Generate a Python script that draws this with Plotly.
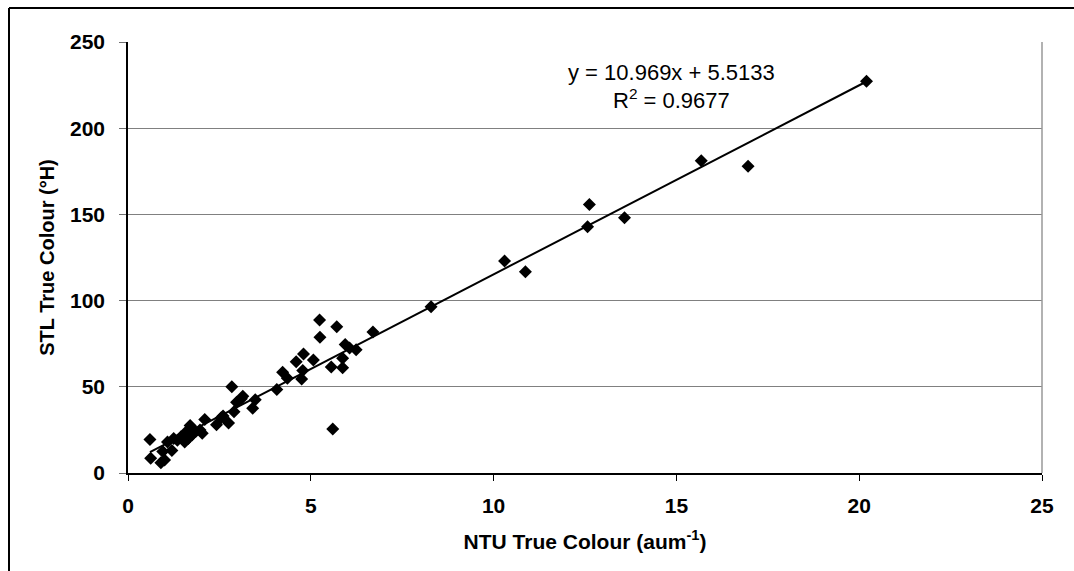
import plotly.graph_objects as go

ntu_colour = [0.60, 0.62, 0.90, 1.00, 0.95, 1.08, 1.20, 1.25, 1.35, 1.45, 1.55, 1.60, 1.65, 1.70,
              1.75, 1.85, 1.97, 2.03, 2.10, 2.42, 2.55, 2.60, 2.75, 2.84, 2.90, 2.97, 3.10, 3.14,
              3.41, 3.48, 4.07, 4.23, 4.36, 4.60, 4.75, 4.78, 4.80, 5.07, 5.24, 5.25, 5.56, 5.60,
              5.71, 5.87, 5.87, 5.94, 6.06, 6.24, 6.70, 8.29, 10.30, 10.87, 12.57, 12.62, 13.58,
              15.68, 16.96, 20.20]
stl_colour = [19.5, 8.5, 6.0, 7.5, 12.5, 18.0, 13.0, 20.0, 19.0, 21.0, 18.0, 24.0, 20.0, 27.5,
              22.0, 24.0, 25.0, 23.0, 31.0, 28.0, 32.0, 33.0, 29.0, 50.0, 35.5, 41.0, 43.0, 44.5,
              37.5, 42.5, 48.5, 58.5, 55.0, 64.5, 54.5, 59.5, 69.0, 65.5, 88.7, 78.7, 61.5, 25.5,
              84.8, 66.5, 61.0, 74.5, 72.5, 71.5, 81.8, 96.5, 123.0, 116.8, 142.9, 155.8, 148.1,
              181.1, 178.0, 227.2]

slope = 10.969
intercept = 5.5133
r_squared = 0.9677

x_ticks = [0, 5, 10, 15, 20, 25]
y_ticks = [0, 50, 100, 150, 200, 250]

FONT = "Arial, 'Liberation Sans', sans-serif"

xs = [min(ntu_colour), max(ntu_colour)]
ys = [slope * v + intercept for v in xs]

fig = go.Figure()
fig.add_trace(go.Scatter(x=xs, y=ys, mode="lines",
                         line=dict(color="black", width=2), hoverinfo="skip", showlegend=False))
fig.add_trace(go.Scatter(x=ntu_colour, y=stl_colour, mode="markers",
                         marker=dict(symbol="diamond", size=10, color="black"),
                         showlegend=False))

W, H = 1074, 571
L, R, T, B = 128, 32, 42, 98
pw, ph = W - L - R, H - T - B

def px2paper_x(p):
    return (p - L) / pw

def px2paper_y(p):
    return (H - B - p) / ph

fig.update_layout(
    width=W, height=H,
    margin=dict(l=L, r=R, t=T, b=B),
    paper_bgcolor="white", plot_bgcolor="white",
    font=dict(family=FONT, color="black"),
    xaxis=dict(range=[0, 25], tickvals=x_ticks, ticks="outside", ticklen=6, tickcolor="black",
               showline=True, linecolor="black", linewidth=1.5, showgrid=False, zeroline=False,
               ticklabelstandoff=7,
               tickfont=dict(size=21, family=FONT, weight="bold"),
               title=dict(text="NTU True Colour (aum<sup>-1</sup>)",
                          font=dict(size=21, family=FONT, weight="bold"), standoff=18)),
    yaxis=dict(range=[0, 250], tickvals=y_ticks, ticks="outside", ticklen=7, tickcolor="#707070",
               showline=True, linecolor="black", linewidth=1.5, showgrid=True,
               gridcolor="#808080", gridwidth=1, zeroline=False,
               ticklabelstandoff=10,
               tickfont=dict(size=21, family=FONT, weight="bold"),
               title=dict(text="STL True Colour (°H)",
                          font=dict(size=20, family=FONT, weight="bold"), standoff=10)),
    shapes=[
        dict(type="line", xref="paper", yref="paper", x0=1, x1=1, y0=0, y1=1,
             line=dict(color="#999999", width=1.5)),
        dict(type="line", xref="paper", yref="paper",
             x0=px2paper_x(9), x1=px2paper_x(1100), y0=px2paper_y(8), y1=px2paper_y(8),
             line=dict(color="black", width=2)),
        dict(type="line", xref="paper", yref="paper",
             x0=px2paper_x(9), x1=px2paper_x(9), y0=px2paper_y(8), y1=px2paper_y(600),
             line=dict(color="black", width=2)),
    ],
    annotations=[
        dict(x=14.86, y=232.6, xref="x", yref="y", showarrow=False,
             text=f"y = {slope}x + {intercept}", font=dict(size=22, family=FONT)),
        dict(x=14.86, y=217.0, xref="x", yref="y", showarrow=False,
             text=f"R<sup>2</sup> = {r_squared}", font=dict(size=22, family=FONT)),
    ],
)

fig.write_html("out.html")
